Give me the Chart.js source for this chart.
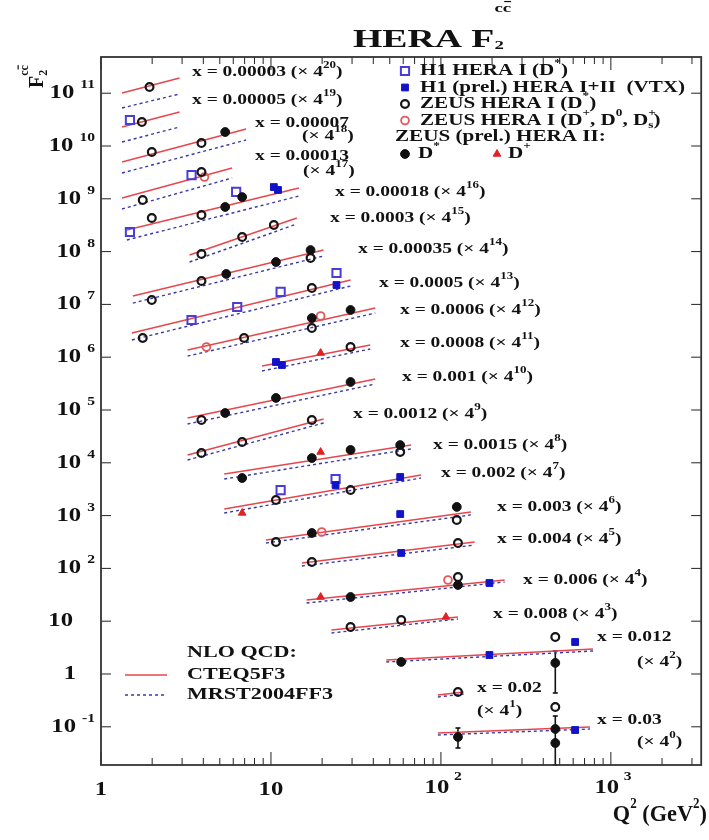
<!DOCTYPE html>
<html>
<head>
<meta charset="utf-8">
<script src="https://cdn.jsdelivr.net/npm/chart.js@4.4.1/dist/chart.umd.min.js"></script>
<style>
  html, body { margin: 0; padding: 0; background: #fff; }
  #wrap { width: 709px; height: 840px; position: relative; }
</style>
</head>
<body>
<div id="wrap"><canvas id="chart"></canvas></div>
<script>
// ---- data (already multiplied by 4^n) ----
const BIN_X = ['0.00003', '0.00005', '0.00007', '0.00013', '0.00018', '0.0003', '0.00035', '0.0005',
  '0.0006', '0.0008', '0.001', '0.0012', '0.0015', '0.002', '0.003', '0.004', '0.006', '0.008',
  '0.012', '0.02', '0.03'];
const BIN_POW = [20, 19, 18, 17, 16, 15, 14, 13, 12, 11, 10, 9, 8, 7, 6, 5, 4, 3, 2, 1, 0];

// NLO QCD curves: Q2 range per bin and F2 at both ends
const TH_Q_LO = [1.33, 1.33, 1.33, 1.33, 1.42, 3.32, 1.54, 1.52, 3.23, 8.86, 3.23, 3.23, 5.31, 5.31, 9.35, 15.2, 16.2, 22.7, 47.7, 96, 96];
const TH_Q_HI = [2.9, 2.9, 7.14, 5.91, 14.6, 14.2, 20.4, 29.4, 41.1, 38.4, 41.1, 20.4, 66.8, 76.4, 150, 158, 237, 126, 785, 136, 754];
const CTEQ_LO = [1.01e11, 2.29e10, 4.98e9, 1.04e9, 2.57e8, 8.62e7, 1.44e7, 2.87e6, 1.37e6, 6.81e5, 7.05e4, 1.41e4, 6.14e3, 1.33e3, 345, 127, 25.2, 6.81, 1.84, 0.400, 0.0763];
const CTEQ_HI = [1.94e11, 4.41e10, 2.10e10, 3.83e9, 1.60e9, 4.33e8, 1.07e8, 2.90e7, 8.55e6, 1.70e6, 3.87e5, 6.76e4, 2.17e4, 5.87e3, 1170, 316, 60.3, 12.0, 2.98, 0.456, 0.0991];
const MRST_LO = [5.25e10, 1.19e10, 3.08e9, 6.41e8, 1.66e8, 6.35e7, 1.06e7, 2.12e6, 1.05e6, 5.48e5, 5.43e4, 1.13e4, 4.93e3, 1.12e3, 303, 111, 22.1, 5.98, 1.69, 0.367, 0.070];
const MRST_HI = [9.66e10, 2.29e10, 1.30e10, 2.48e9, 1.13e9, 3.33e8, 8.26e7, 2.23e7, 6.87e6, 1.43e6, 3.11e5, 5.67e4, 1.83e4, 5.15e3, 1030, 277, 55.3, 11.0, 2.73, 0.418, 0.0908];

// measurements [Q2, F2 x 4^n, (errHi, errLo)]
const H1_HERA1 = [[1.48, 3.11e10], [3.41, 2.82e9], [1.48, 2.35e8], [6.24, 1.35e9], [3.41, 5.07e6],
  [6.33, 8.93e6], [11.4, 1.72e7], [24.3, 3.93e7], [11.4, 3.05e3], [24.0, 4.93e3]];
const H1_VTX = [[10.4, 1.67e9], [11.0, 1.47e9], [24.3, 2.33e7], [10.7, 8.11e5], [11.6, 7.12e5],
  [24.0, 3.80e3], [57.6, 5.38e3], [57.6, 1.07e3], [58.4, 196], [193, 52.9], [193, 2.29],
  [616, 4.04], [616, 0.0869]];
const ZEUS_HERA1 = [[1.93, 1.31e11], [1.74, 2.85e10], [1.99, 7.70e9], [3.90, 1.14e10], [3.90, 3.22e9],
  [1.76, 9.49e8], [1.99, 4.33e8], [3.90, 4.93e8], [3.90, 9.01e7], [6.77, 1.89e8], [10.4, 3.19e8],
  [1.99, 1.21e7], [3.90, 2.77e7], [17.1, 7.57e7], [1.76, 2.31e6], [17.4, 2.05e7], [6.95, 2.31e6],
  [17.4, 3.57e6], [29.4, 1.56e6], [3.90, 6.47e4], [3.90, 1.53e4], [6.77, 2.48e4], [17.4, 6.47e4],
  [57.6, 1.60e4], [10.7, 1.97e3], [29.4, 3.05e3], [10.7, 316], [124, 826], [17.4, 132], [126, 303],
  [126, 68.7], [29.4, 7.77], [58.4, 10.5], [471, 5.02], [126, 0.456], [471, 0.237]];
const ZEUS_HERA1_DPLUS = [[4.06, 2.59e9], [4.17, 1.56e6], [19.6, 6.03e6], [19.9, 489], [110, 60.3]];
const ZEUS_HERA2_DSTAR = [[5.38, 1.84e10], [5.38, 7.00e8], [6.77, 1.08e9], [5.46, 3.77e7], [10.7, 6.35e7],
  [17.1, 1.07e8], [17.4, 5.52e6], [29.4, 7.83e6], [5.38, 8.77e4], [10.7, 1.69e5], [29.4, 3.39e5],
  [6.77, 5.15e3], [17.4, 1.23e4], [29.4, 1.75e4], [57.6, 2.17e4], [17.4, 468], [124, 1.46e3],
  [29.4, 28.7], [126, 48.5], [58.4, 1.69], [471, 1.62, 2.73, 0.437], [126, 0.0641, 0.0949, 0.0397],
  [471, 0.0908], [471, 0.0493, 0.160, 0.0189]];
const ZEUS_HERA2_DPLUS = [[19.6, 1.20e6], [19.6, 1.60e4], [6.77, 1.12e3], [19.6, 28.7], [107, 12.0]];

const Q_RANGE = [1, 3400];
const F_RANGE = [0.0189, 4.85e11];
const X_TICKS = [1, 10, 100, 1000];
const Y_TICK_EXP = [-1, 0, 1, 2, 3, 4, 5, 6, 7, 8, 9, 10, 11];

// ---- layout / style ----
const FONT = '"Liberation Serif", "Times New Roman", serif';
const RED = '#e8464c';
const DASH = '#3a3aa6';
const STYLE = {
  h1open:  { shape: 'rect', r: 5.8, stroke: '#4a3cd6', fill: null, lw: 2 },
  h1vtx:   { shape: 'rect', r: 4.8, stroke: '#1212c8', fill: '#1212c8', lw: 1 },
  zeusI:   { shape: 'circle', r: 3.9, stroke: '#151515', fill: null, lw: 2.2 },
  zeusIr:  { shape: 'circle', r: 3.9, stroke: '#e05a5a', fill: null, lw: 1.8 },
  zeusII:  { shape: 'circle', r: 4.4, stroke: '#111', fill: '#111', lw: 1 },
  zeusIIr: { shape: 'triangle', r: 4.4, stroke: '#e02222', fill: '#e02222', lw: 1 }
};
// pixel anchors of the x-bin captions: [x, y] or [x, y, x2, y2] for two lines
const LABEL_POS = [[192, 72], [192, 100], [255, 123, 302, 136], [255, 156, 303, 171], [335, 192],
  [330, 218], [358, 249], [379, 283], [400, 310], [400, 343], [402, 377], [353, 414], [433, 445],
  [441, 473], [497, 507], [497, 539], [523, 580], [493, 614], [597, 637, 637, 662],
  [477, 688, 477, 711], [597, 720, 637, 742]];

function font(size) { return `bold ${size}px ${FONT}`; }

// parts: [text, kind, noAdvance]; kind 0 normal, 1 sup, -1 sub, 2 sup with overline
function drawRich(ctx, x, y, parts, o) {
  const size = o.size, sx = o.sx || 1.3;
  const small = o.supSize || Math.round(size * 0.65);
  const supDy = o.supDy != null ? o.supDy : -size * 0.45;
  const subDy = o.subDy != null ? o.subDy : size * 0.3;
  ctx.save();
  ctx.translate(x, y);
  if (o.rotate) ctx.rotate(o.rotate);
  ctx.scale(sx, 1);
  ctx.textBaseline = 'middle';
  ctx.textAlign = 'left';
  ctx.fillStyle = o.color || '#111';
  let total = 0;
  const widths = parts.map(p => {
    ctx.font = font(p[1] === 0 ? size : small);
    const w = ctx.measureText(p[0]).width;
    if (!p[2]) total += w;
    return w;
  });
  let cx = o.align === 'right' ? -total : o.align === 'center' ? -total / 2 : 0;
  parts.forEach((p, i) => {
    const k = p[1];
    ctx.font = font(k === 0 ? size : small);
    const dy = k === 0 ? 0 : (k === -1 ? subDy : supDy);
    ctx.fillText(p[0], cx, dy);
    if (k === 2) ctx.fillRect(cx + 1, dy - small * 0.62, widths[i] - 1, 1.2);
    if (!p[2]) cx += widths[i];
  });
  ctx.restore();
  return total * sx;
}

function marker(ctx, st, x, y) {
  ctx.save();
  ctx.lineWidth = st.lw;
  ctx.strokeStyle = st.stroke;
  ctx.fillStyle = st.fill || 'rgba(0,0,0,0)';
  ctx.beginPath();
  if (st.shape === 'circle') ctx.arc(x, y, st.r, 0, Math.PI * 2);
  else if (st.shape === 'rect') { const s = st.r * Math.SQRT1_2; ctx.rect(x - s, y - s, 2 * s, 2 * s); }
  else { ctx.moveTo(x, y - st.r); ctx.lineTo(x + st.r * 0.87, y + st.r * 0.5); ctx.lineTo(x - st.r * 0.87, y + st.r * 0.5); ctx.closePath(); }
  if (st.fill) ctx.fill();
  ctx.stroke();
  ctx.restore();
}

function line(ctx, x1, y1, x2, y2) {
  ctx.beginPath(); ctx.moveTo(x1, y1); ctx.lineTo(x2, y2); ctx.stroke();
}

// ---- datasets ----
function pts(arr) { return arr.map(p => ({ x: p[0], y: p[1] })); }
function markerSet(arr, st) {
  return {
    data: pts(arr), showLine: false, order: 0,
    pointStyle: st.shape, pointRadius: st.r, pointBorderWidth: st.lw,
    pointBorderColor: st.stroke, pointBackgroundColor: st.fill || 'rgba(0,0,0,0)'
  };
}

const datasets = [
  markerSet(ZEUS_HERA2_DSTAR, STYLE.zeusII),
  markerSet(ZEUS_HERA2_DPLUS, STYLE.zeusIIr),
  markerSet(H1_VTX, STYLE.h1vtx),
  markerSet(ZEUS_HERA1, STYLE.zeusI),
  markerSet(ZEUS_HERA1_DPLUS, STYLE.zeusIr),
  markerSet(H1_HERA1, STYLE.h1open)
];
for (let i = 0; i < BIN_X.length; i++) {
  datasets.push({
    data: [{ x: TH_Q_LO[i], y: CTEQ_LO[i] }, { x: TH_Q_HI[i], y: CTEQ_HI[i] }],
    showLine: true, pointRadius: 0, borderColor: RED, borderWidth: 1.5, order: 2
  });
  datasets.push({
    data: [{ x: TH_Q_LO[i], y: MRST_LO[i] }, { x: TH_Q_HI[i], y: MRST_HI[i] }],
    showLine: true, pointRadius: 0, borderColor: DASH, borderWidth: 1.4, borderDash: [3, 3], order: 1
  });
}

const decor = {
  id: 'decor',
  beforeDraw(chart) {
    const ctx = chart.ctx;
    ctx.save();
    ctx.fillStyle = '#fff';
    ctx.fillRect(0, 0, chart.width, chart.height);
    ctx.restore();
  },
  beforeDatasetsDraw(chart) {
    const ctx = chart.ctx, xs = chart.scales.x, ys = chart.scales.y;
    const bottom = chart.chartArea.bottom;
    ctx.save();
    ctx.strokeStyle = '#111';
    ctx.lineWidth = 1.6;
    for (const p of ZEUS_HERA2_DSTAR) {
      if (p.length < 4) continue;
      const px = xs.getPixelForValue(p[0]);
      const yHi = ys.getPixelForValue(p[2]);
      const yLo = Math.min(bottom, ys.getPixelForValue(p[3]));
      line(ctx, px, yHi, px, yLo);
      line(ctx, px - 2.5, yHi, px + 2.5, yHi);
      line(ctx, px - 2.5, yLo, px + 2.5, yLo);
    }
    ctx.restore();
  },
  afterDraw(chart) {
    const ctx = chart.ctx, xs = chart.scales.x, ys = chart.scales.y;
    const { left, right, top, bottom } = chart.chartArea;
    ctx.save();

    // frame and ticks
    ctx.strokeStyle = '#222';
    ctx.lineWidth = 1;
    for (let d = 0; d <= 3; d++) {
      for (let m = 1; m <= 9; m++) {
        const v = m * Math.pow(10, d);
        if (v >= Q_RANGE[1]) break;
        const px = xs.getPixelForValue(v);
        const len = m === 1 ? 13 : 7;
        line(ctx, px, bottom, px, bottom - len);
        line(ctx, px, top, px, top + len);
      }
    }
    for (const e of Y_TICK_EXP) {
      const py = ys.getPixelForValue(Math.pow(10, e));
      line(ctx, left, py, left + 10, py);
      line(ctx, right, py, right - 10, py);
    }
    ctx.lineWidth = 1.8;
    ctx.strokeStyle = '#333';
    ctx.strokeRect(left, top, right - left, bottom - top);

    // y tick labels
    for (const e of Y_TICK_EXP) {
      const py = ys.getPixelForValue(Math.pow(10, e));
      if (e === 0) drawRich(ctx, 76, py, [['1', 0]], { size: 19, align: 'right' });
      else if (e === 1) drawRich(ctx, 73, py, [['10', 0]], { size: 19, align: 'right' });
      else {
        const w = drawRich(ctx, 95, py - 8, [[String(e), 0]], { size: 12, align: 'right' });
        drawRich(ctx, 95 - w - 6, py, [['10', 0]], { size: 19, align: 'right' });
      }
    }
    // x tick labels
    for (const v of X_TICKS) {
      const px = xs.getPixelForValue(v);
      const e = Math.round(Math.log10(v));
      if (e <= 1) drawRich(ctx, px, 790, [[String(v), 0]], { size: 19, align: 'center' });
      else {
        drawRich(ctx, px - 4, 788, [['10', 0]], { size: 19, align: 'center' });
        drawRich(ctx, px + 13, 777, [[String(e), 0]], { size: 12 });
      }
    }

    // titles
    drawRich(ctx, 353, 40, [['HERA F', 0], ['2', -1, true], ['c', 1], ['c', 2]],
      { size: 26, sx: 1.45, supSize: 13, supDy: -31, subDy: 6 });
    drawRich(ctx, 707, 815, [['Q', 0], ['2', 1], [' (GeV', 0], ['2', 1], [')', 0]],
      { size: 24, sx: 0.93, supSize: 14, supDy: -11, align: 'right' });
    drawRich(ctx, 38, 88, [['F', 0], ['2', -1, true], ['c', 1], ['c', 2]],
      { size: 20, sx: 1, supSize: 12, supDy: -13, subDy: 6, rotate: -Math.PI / 2 });

    // x-bin captions
    BIN_X.forEach((bx, i) => {
      const p = LABEL_POS[i], n = String(BIN_POW[i]);
      const o = { size: 15, sx: 1.3 };
      if (p.length === 2) {
        drawRich(ctx, p[0], p[1], [['x = ' + bx + ' (\u00d7 4', 0], [n, 1], [')', 0]], o);
      } else {
        drawRich(ctx, p[0], p[1], [['x = ' + bx, 0]], o);
        drawRich(ctx, p[2], p[3], [['(\u00d7 4', 0], [n, 1], [')', 0]], o);
      }
    });

    // data legend (top right)
    const lg = { size: 16, sx: 1.32 };
    marker(ctx, STYLE.h1open, 405, 71);
    drawRich(ctx, 420, 71, [['H1 HERA I (D', 0], ['*', 1], [')', 0]], lg);
    marker(ctx, STYLE.h1vtx, 405, 87.5);
    drawRich(ctx, 420, 87.5, [['H1 (prel.) HERA I+II  (VTX)', 0]], lg);
    marker(ctx, STYLE.zeusI, 405, 104);
    drawRich(ctx, 420, 104, [['ZEUS HERA I (D', 0], ['*', 1], [')', 0]], lg);
    marker(ctx, STYLE.zeusIr, 405, 120.5);
    drawRich(ctx, 420, 120.5, [['ZEUS HERA I (D', 0], ['+', 1], [', D', 0], ['0', 1], [', D', 0],
      ['+', 1, true], ['s', -1], [')', 0]], lg);
    drawRich(ctx, 395, 137, [['ZEUS (prel.) HERA II:', 0]], lg);
    marker(ctx, STYLE.zeusII, 405, 154);
    drawRich(ctx, 418, 154, [['D', 0], ['*', 1]], lg);
    marker(ctx, STYLE.zeusIIr, 497, 154);
    drawRich(ctx, 508, 154, [['D', 0], ['+', 1]], lg);

    // theory legend (bottom left)
    const tl = { size: 17, sx: 1.3 };
    drawRich(ctx, 187, 653, [['NLO QCD:', 0]], tl);
    ctx.lineWidth = 1.5;
    ctx.strokeStyle = RED;
    line(ctx, 125, 675, 167, 675);
    drawRich(ctx, 187, 675, [['CTEQ5F3', 0]], tl);
    ctx.strokeStyle = DASH;
    ctx.setLineDash([3, 3]);
    line(ctx, 125, 695, 167, 695);
    ctx.setLineDash([]);
    drawRich(ctx, 187, 695, [['MRST2004FF3', 0]], tl);

    ctx.restore();
  }
};

new Chart(document.getElementById('chart'), {
  type: 'scatter',
  data: { datasets },
  options: {
    responsive: true,
    maintainAspectRatio: false,
    animation: false,
    events: [],
    layout: { padding: { left: 101, right: 4, top: 57, bottom: 75 } },
    plugins: { legend: { display: false }, tooltip: { enabled: false } },
    scales: {
      x: { type: 'logarithmic', min: Q_RANGE[0], max: Q_RANGE[1], display: false },
      y: { type: 'logarithmic', min: F_RANGE[0], max: F_RANGE[1], display: false }
    }
  },
  plugins: [decor]
});
</script>
</body>
</html>
